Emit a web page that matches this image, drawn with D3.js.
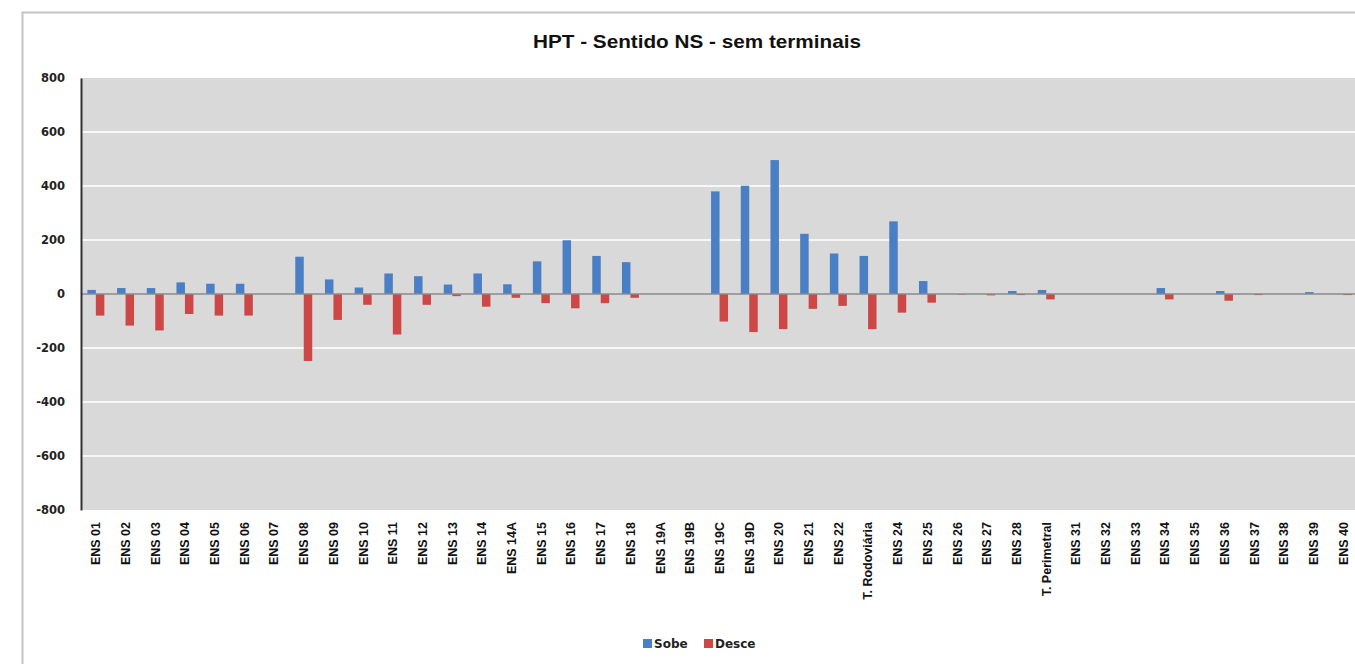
<!DOCTYPE html>
<html><head><meta charset="utf-8">
<script src="https://cdn.jsdelivr.net/npm/d3@7"></script>
<style>html,body{margin:0;padding:0;background:#fff;overflow:hidden}</style>
</head><body>
<svg id="c" width="1355" height="664"></svg>
<script>
const categories = ["ENS 01","ENS 02","ENS 03","ENS 04","ENS 05","ENS 06","ENS 07","ENS 08","ENS 09","ENS 10","ENS 11","ENS 12","ENS 13","ENS 14","ENS 14A","ENS 15","ENS 16","ENS 17","ENS 18","ENS 19A","ENS 19B","ENS 19C","ENS 19D","ENS 20","ENS 21","ENS 22","T. Rodoviária","ENS 24","ENS 25","ENS 26","ENS 27","ENS 28","T. Perimetral","ENS 31","ENS 32","ENS 33","ENS 34","ENS 35","ENS 36","ENS 37","ENS 38","ENS 39","ENS 40"];
const sobe  = [15,22,22,43,38,38,0,138,54,24,76,66,35,76,36,121,199,141,118,0,0,380,401,496,223,150,141,269,48,0,0,11,15,0,0,0,22,0,11,0,0,7,0];
const desce = [-80,-117,-135,-74,-80,-80,0,-248,-96,-40,-150,-40,-8,-47,-14,-34,-53,-34,-14,0,0,-102,-141,-130,-55,-44,-130,-69,-32,-2,-5,-4,-20,0,0,0,-20,0,-25,-4,0,0,-4];
const yTicks = [-800,-600,-400,-200,0,200,400,600,800];
const seriesNames = ["Sobe","Desce"];
const colors = ["#4a7fc6","#cd4747"];
const title = "HPT - Sentido NS - sem terminais";

const svg = d3.select("#c");
svg.append("rect").attr("x",22.5).attr("y",12.5).attr("width",1400).attr("height",700)
  .attr("fill","#fff").attr("stroke","#c4c4c4").attr("stroke-width",2);

const L = 81, R = 81 + 43*29.7, T = 78, B = 510;
const x = d3.scaleBand().domain(categories).range([L,R]).paddingInner(1.5/3.5).paddingOuter(0.75/3.5);
const xs = d3.scaleBand().domain(seriesNames).range([0,x.bandwidth()]);
const y = d3.scaleLinear().domain([-800,800]).range([B,T]);

svg.append("rect").attr("x",L).attr("y",T).attr("width",R-L).attr("height",B-T).attr("fill","#d9d9d9");
svg.append("g").selectAll("line").data(yTicks.filter(v=>v!==0 && v!==800 && v!==-800)).join("line")
  .attr("x1",L).attr("x2",R).attr("y1",d=>y(d)).attr("y2",d=>y(d))
  .attr("stroke","#f7f7f7").attr("stroke-width",2);

const data = categories.map((c,i)=>({c, v:[sobe[i],desce[i]]}));
const g = svg.append("g");
seriesNames.forEach((s,si)=>{
  g.selectAll("rect.s"+si).data(data).join("rect").attr("class","s"+si)
    .attr("x",d=>x(d.c)+xs(s)).attr("width",xs.bandwidth())
    .attr("y",d=>y(Math.max(0,d.v[si]))).attr("height",d=>Math.abs(y(d.v[si])-y(0)))
    .attr("fill",colors[si]);
});
svg.append("line").attr("x1",L).attr("x2",R).attr("y1",y(0)).attr("y2",y(0)).attr("stroke","#8a8a8a").attr("stroke-width",1.5);

const ya = svg.append("g").attr("transform",`translate(${L},0)`)
  .call(d3.axisLeft(y).tickValues(yTicks).tickSize(0).tickPadding(16).tickFormat(d=>String(d)));
ya.select(".domain").attr("stroke","#333").attr("stroke-width",2);
ya.selectAll("text").attr("font-family","DejaVu Sans").attr("font-weight","bold").attr("font-size","11.5px").attr("fill","#222");

const xa = svg.append("g").attr("transform",`translate(0,${B})`)
  .call(d3.axisBottom(x).tickSize(0).tickPadding(0));
xa.select(".domain").remove();
xa.selectAll("text").attr("font-family","Liberation Sans").attr("font-weight","bold").attr("font-size","12.5px").attr("fill","#111")
  .attr("text-anchor","end").attr("transform","rotate(-90)").attr("x",-12).attr("y",0).attr("dy","0.35em");

svg.append("text").attr("x",697).attr("y",48).attr("text-anchor","middle")
  .attr("font-family","Liberation Sans").attr("font-weight","bold").attr("font-size","19px").attr("fill","#111")
  .attr("textLength",328).attr("lengthAdjust","spacingAndGlyphs").text(title);

const lg = svg.append("g");
const lx = [643,704];
seriesNames.forEach((s,i)=>{
  lg.append("rect").attr("x",lx[i]).attr("y",639).attr("width",9).attr("height",9).attr("fill",colors[i]);
  lg.append("text").attr("x",lx[i]+11).attr("y",648).attr("font-family","DejaVu Sans").attr("font-weight","bold")
    .attr("font-size","12px").attr("fill","#222").text(s);
});
</script>
</body></html>
